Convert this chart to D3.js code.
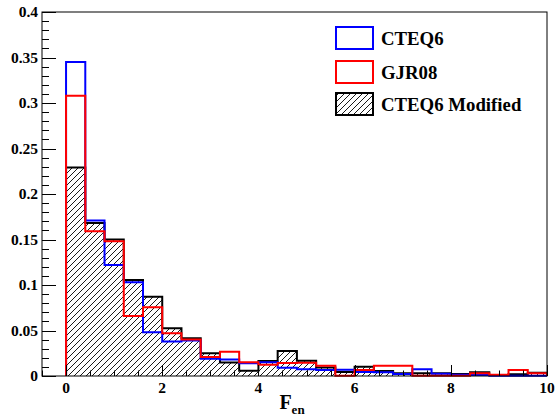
<!DOCTYPE html>
<html>
<head>
	<meta charset="utf-8">
	<title></title>
	<style>
		body { margin: 0; background: #fff; }
		text { font-family: "Liberation Serif", "DejaVu Serif", serif; font-weight: bold; }
	</style>
</head>
<body>
	<svg id="container" height="417" width="556"></svg>
</body>
<script src="https://d3js.org/d3.v7.min.js"></script>
<script>
	// bin edges (width 0.4) from 0 to 10
	const binEdges = [0, 0.4, 0.8, 1.2, 1.6, 2.0, 2.4, 2.8, 3.2, 3.6, 4.0, 4.4, 4.8,
		5.2, 5.6, 6.0, 6.4, 6.8, 7.2, 7.6, 8.0, 8.4, 8.8, 9.2, 9.6, 10.0]

	// contents
	const cteq6 = [0.345, 0.171, 0.122, 0.103, 0.048, 0.038, 0.039, 0.019, 0.018, 0.014,
		0.015, 0.0092, 0.0073, 0.0066, 0.0068, 0.0045, 0.004, 0.0023, 0.0073, 0.0025,
		0.0015, 0.001, 0.0003, 0.0003, 0.0004]
	const gjr08 = [0.308, 0.159, 0.148, 0.066, 0.0755, 0.047, 0.040, 0.021, 0.0267, 0.015,
		0.0124, 0.0142, 0.0145, 0.0113, 0.0004, 0.0065, 0.0113, 0.0113, 0.0004, 0.0004,
		0.0004, 0.003, 0.0015, 0.0066, 0.003]
	const cteq6mod = [0.229, 0.168, 0.150, 0.1055, 0.087, 0.0524, 0.0414, 0.0249, 0.0148, 0.0058,
		0.0165, 0.0275, 0.0168, 0.0093, 0.0045, 0.0102, 0.0055, 0.003, 0.003, 0.003,
		0.0022, 0.004, 0.0012, 0.0019, 0.0036]

	const yTickVals = [0, 0.05, 0.1, 0.15, 0.2, 0.25, 0.3, 0.35, 0.4]
	const yTickLabels = ["0", "0.05", "0.1", "0.15", "0.2", "0.25", "0.3", "0.35", "0.4"]
	const xTickVals = [0, 2, 4, 6, 8, 10]
	const xTickLabels = ["0", "2", "4", "6", "8", "10"]
	const legendNames = ["CTEQ6", "GJR08", "CTEQ6 Modified"]

	let svg = d3.select("#container")

	let padL = 42, padR = 547, padT = 12, padB = 376

	let x = d3.scaleLinear().domain([-0.5, 10]).range([padL, padR])
	let y = d3.scaleLinear().domain([0, 0.4]).range([padB, padT])

	// hatch pattern (ROOT 3004 style)
	let defs = svg.append("defs")
	let pat = defs.append("pattern")
		.attr("id", "hatch")
		.attr("patternUnits", "userSpaceOnUse")
		.attr("width", 6).attr("height", 6)
	pat.append("path")
		.attr("d", "M-1,1 l2,-2 M0,6 l6,-6 M5,7 l2,-2")
		.attr("stroke", "#000").attr("stroke-width", 0.9)

	function stepPoints(vals) {
		let pts = [[binEdges[0], 0]]
		vals.forEach((v, i) => {
			pts.push([binEdges[i], v])
			pts.push([binEdges[i + 1], v])
		})
		pts.push([binEdges[binEdges.length - 1], 0])
		return pts
	}

	let line = d3.line().x(d => x(d[0])).y(d => y(d[1]))

	// hatched histogram
	svg.append("path")
		.attr("d", line(stepPoints(cteq6mod)) + "Z")
		.attr("fill", "url(#hatch)")
		.attr("stroke", "none")
	svg.append("path")
		.attr("d", line(stepPoints(cteq6mod)))
		.attr("fill", "none")
		.attr("stroke", "#000").attr("stroke-width", 2)
	svg.append("path")
		.attr("d", line(stepPoints(cteq6)))
		.attr("fill", "none")
		.attr("stroke", "#0000ff").attr("stroke-width", 2)
	svg.append("path")
		.attr("d", line(stepPoints(gjr08)))
		.attr("fill", "none")
		.attr("stroke", "#ff0000").attr("stroke-width", 2)

	// frame
	svg.append("rect")
		.attr("x", padL).attr("y", padT)
		.attr("width", padR - padL).attr("height", padB - padT)
		.attr("fill", "none").attr("stroke", "#000").attr("stroke-width", 1)

	// y axis ticks
	let yMinor = d3.range(0, 0.4001, 0.01)
	svg.append("g").selectAll("line")
		.data(yMinor).enter().append("line")
		.attr("x1", padL).attr("x2", (d, i) => i % 5 == 0 ? padL + 14 : padL + 7)
		.attr("y1", d => Math.round(y(d)) + 0.5).attr("y2", d => Math.round(y(d)) + 0.5)
		.attr("stroke", "#000")
	svg.append("g").selectAll("text")
		.data(yTickVals).enter().append("text")
		.attr("x", padL - 4).attr("y", d => y(d))
		.attr("dy", "0.35em")
		.attr("text-anchor", "end")
		.attr("font-size", 15.5)
		.text((d, i) => yTickLabels[i])

	// x axis ticks
	let xMinor = d3.range(-0.5, 10.001, 0.5)
	svg.append("g").selectAll("line")
		.data(xMinor).enter().append("line")
		.attr("x1", d => Math.round(x(d)) + 0.5).attr("x2", d => Math.round(x(d)) + 0.5)
		.attr("y1", padB)
		.attr("y2", d => (Math.abs(d % 2) < 1e-6) ? padB - 11 : padB - 5.5)
		.attr("stroke", "#000")
	svg.append("g").selectAll("text")
		.data(xTickVals).enter().append("text")
		.attr("x", d => x(d)).attr("y", 393)
		.attr("text-anchor", "middle")
		.attr("font-size", 15.5)
		.text((d, i) => xTickLabels[i])

	// x title
	let xt = svg.append("text")
		.attr("x", 292).attr("y", 409)
		.attr("text-anchor", "middle")
	xt.append("tspan").attr("font-size", 20).text("F")
	xt.append("tspan").attr("font-size", 13).attr("dy", 5).text("en")

	// legend
	let legY = [38, 72, 104]
	let leg = svg.append("g")
	legendNames.forEach((name, i) => {
		let box = leg.append("rect")
			.attr("x", 336).attr("y", legY[i] - 11)
			.attr("width", 37).attr("height", 22)
			.attr("stroke-width", 2)
		if (i == 0) box.attr("fill", "#fff").attr("stroke", "#0000ff")
		if (i == 1) box.attr("fill", "#fff").attr("stroke", "#ff0000")
		if (i == 2) box.attr("fill", "url(#hatch)").attr("stroke", "#000")
		leg.append("text")
			.attr("x", 381).attr("y", legY[i])
			.attr("dy", "0.35em")
			.attr("font-size", 18.8)
			.text(name)
	})
</script>
</html>
